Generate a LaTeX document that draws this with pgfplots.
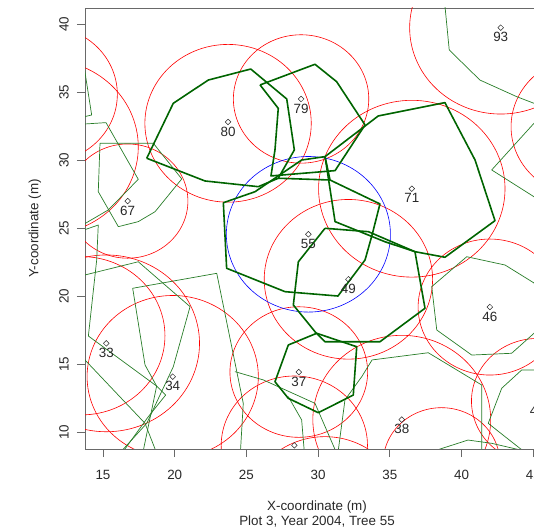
\documentclass[border=0pt]{standalone}
\usepackage{fontspec}
\setmainfont{Liberation Sans}
\usepackage{pgfplots}
\pgfplotsset{compat=1.18}
\definecolor{dkgreen}{RGB}{0,100,0}
\definecolor{thgreen}{RGB}{40,125,40}
\definecolor{axgray}{RGB}{105,105,105}
\definecolor{txt}{RGB}{40,40,40}
\pgfplotsset{
  circ/.style={domain=0:360, samples=121, variable=\t, no markers, line width=0.6bp},
  crownA/.style={dkgreen, line width=1.6bp, line join=round, no markers},
  crownB/.style={thgreen, line width=0.7bp, line join=round, no markers},
}
\begin{document}
\begin{tikzpicture}
\begin{axis}[
  at={(0,0)}, anchor=south west,
  scale only axis, width=464bp, height=441bp,
  xmin=13.745, xmax=46.096, ymin=8.772, ymax=41.198,
  xtick={15,20,...,45}, ytick={10,15,...,40},
  tick align=outside, tick pos=left,
  major tick length=8bp,
  axis line style={axgray, line width=0.8bp},
  every tick/.style={axgray, line width=0.8bp},
  tick label style={font=\fontsize{13.4bp}{16bp}\selectfont, text=txt},
  /pgf/number format/assume math mode=true,
  xticklabel style={anchor=north, inner sep=0pt, yshift=-13bp},
  yticklabel style={rotate=90, anchor=south, inner xsep=0pt, inner ysep=8bp},
  xlabel={X-coordinate (m)\\Plot 3, Year 2004, Tree 55},
  ylabel={Y-coordinate (m)},
  xlabel style={at={(axis description cs:0.5,0)}, anchor=center, yshift=-65bp, align=center, font=\fontsize{13.4bp}{15.3bp}\selectfont, text=txt},
  ylabel style={at={(axis description cs:-0.108,0.5)}, anchor=center, font=\fontsize{13.4bp}{16bp}\selectfont, text=txt},
  clip=true,
]
% competition circles
\addplot[circ, red] ({11.0+5.0*cos(\t)},{34.85+5.0*sin(\t)});
\addplot[circ, red] ({11.04+6.42*cos(\t)},{30.98+6.42*sin(\t)});
\addplot[circ, red] ({23.72+5.8*cos(\t)},{32.72+5.8*sin(\t)});
\addplot[circ, red] ({28.81+4.72*cos(\t)},{34.51+4.72*sin(\t)});
\addplot[circ, red] ({42.73+6.35*cos(\t)},{39.75+6.35*sin(\t)});
\addplot[circ, red] ({48.55+5.1*cos(\t)},{32.47+5.1*sin(\t)});
\addplot[circ, red] ({16.72+4.2*cos(\t)},{27.0+4.2*sin(\t)});
\addplot[circ, red] ({36.53+6.5*cos(\t)},{27.91+6.5*sin(\t)});
\addplot[circ, red] ({32.11+5.87*cos(\t)},{21.25+5.87*sin(\t)});
\addplot[circ, red] ({41.97+5.0*cos(\t)},{19.21+5.0*sin(\t)});
\addplot[circ, red] ({19.86+5.97*cos(\t)},{14.09+5.97*sin(\t)});
\addplot[circ, red] ({15.23+6.5*cos(\t)},{16.54+6.5*sin(\t)});
\addplot[circ, red] ({13.5+5.82*cos(\t)},{17.1+5.82*sin(\t)});
\addplot[circ, red] ({28.65+4.8*cos(\t)},{14.43+4.8*sin(\t)});
\addplot[circ, red] ({35.83+6.2*cos(\t)},{10.93+6.2*sin(\t)});
\addplot[circ, red] ({28.34+5.1*cos(\t)},{9.04+5.1*sin(\t)});
\addplot[circ, red] ({30.47+5.45*cos(\t)},{4.23+5.45*sin(\t)});
\addplot[circ, red] ({38.6+4.07*cos(\t)},{7.74+4.07*sin(\t)});
\addplot[circ, red] ({45.29+4.6*cos(\t)},{12.3+4.6*sin(\t)});
\addplot[circ, blue] ({29.32+5.72*cos(\t)},{24.56+5.72*sin(\t)});
% thin crowns
\addplot[crownB] coordinates {(13.70,36.77) (14.21,33.33) (13.60,33.18)};
\addplot[crownB] coordinates {(13.60,32.66) (15.21,32.77) (17.46,28.60) (15.37,26.35) (13.60,25.26)};
\addplot[crownB] coordinates {(14.79,31.25) (18.51,31.25) (20.49,28.63) (18.63,26.22) (17.46,25.49) (16.07,25.12) (14.67,27.69) (14.79,31.25)};
\addplot[crownB] coordinates {(13.60,24.85) (14.67,25.24) (14.56,22.67) (13.98,17.08) (18.74,13.40) (19.37,12.74) (18.16,11.15) (16.00,8.0)};
\addplot[crownB] coordinates {(13.60,21.53) (17.46,22.54) (21.07,19.24) (19.90,14.82) (18.05,10.66) (15.76,8.0)};
\addplot[crownB] coordinates {(13.60,15.48) (17.93,10.66) (18.63,8.77) (18.91,8.0)};
\addplot[crownB] coordinates {(17.68,8.0) (18.74,13.40) (17.93,14.95) (17.07,20.59) (22.93,21.69) (24.78,12.13) (24.55,8.0)};
\addplot[crownB] coordinates {(38.80,41.8) (39.14,38.11) (41.28,35.90) (43.84,34.68) (45.05,34.19) (46.2,33.7)};
\addplot[crownB] coordinates {(46.2,34.06) (42.10,29.29) (46.2,26.55)};
\addplot[crownB] coordinates {(45.05,20.98) (43.03,22.30) (40.36,22.91) (37.92,20.71) (38.27,17.52) (40.71,15.68) (43.49,15.81) (45.05,17.28) (45.9,19.1) (45.05,20.98)};
\addplot[crownB] coordinates {(31.32,8.0) (31.87,12.38) (33.04,14.09) (33.76,15.32) (37.68,15.85) (41.40,13.48) (41.40,8.0)};
\addplot[crownB] coordinates {(46.2,14.58) (44.19,14.58) (42.80,13.24) (41.86,10.66) (43.03,9.68) (45.06,8.0)};
\addplot[crownB] coordinates {(38.0,8.6) (40.45,9.43) (42.10,9.19) (44.5,8.6)};
\addplot[crownB] coordinates {(24.20,14.46) (26.18,13.85) (29.78,12.13) (31.48,8.0)};
\addplot[crownB] coordinates {(27.92,12.62) (28.85,10.91) (29.08,8.0)};
% thick crowns
\addplot[crownA] coordinates {(18.05,30.15) (19.90,34.19) (22.34,35.90) (25.30,36.71) (27.81,34.51) (28.34,30.76) (27.22,28.68) (25.83,28.06) (22.11,28.48) (18.05,30.15)};
\addplot[crownA] coordinates {(27.22,28.68) (30.83,28.55)};
\addplot[crownA] coordinates {(25.95,35.54) (29.78,37.06) (31.29,35.78) (33.27,32.60) (31.18,29.24) (26.71,28.85) (26.99,30.76) (27.22,33.82) (25.95,35.54)};
\addplot[crownA] coordinates {(23.39,26.88) (25.60,27.69) (28.85,30.02) (30.48,30.27) (30.83,28.55) (34.31,26.79) (33.76,24.51) (33.27,22.67) (31.38,20.02) (27.69,20.34) (23.62,22.06) (23.39,26.88)};
\addplot[crownA] coordinates {(30.48,30.27) (34.19,33.26) (38.84,34.24) (40.94,30.02) (42.33,25.56) (38.84,22.87) (36.75,23.28) (34.66,24.01) (31.18,25.49) (30.48,30.27)};
\addplot[crownA] coordinates {(30.48,25.00) (33.50,24.75) (36.75,23.28) (37.45,19.12) (34.31,16.66) (30.48,16.66) (29.78,17.40) (28.27,19.36) (28.62,22.54) (30.48,25.00)};
\addplot[crownA] coordinates {(29.90,17.28) (27.92,16.42) (26.99,13.72) (27.92,12.50) (30.01,11.44) (32.45,12.74) (32.69,16.29) (29.90,17.28)};
% trees
\addplot[only marks, mark=square, mark size=2bp, mark options={rotate=45, draw=txt, fill=none, line width=0.5bp},
  nodes near coords, point meta=explicit symbolic,
  every node near coord/.append style={anchor=north, inner sep=0pt, yshift=-4.6bp, font=\fontsize{13.4bp}{16bp}\selectfont, text=txt}]
  table[meta=lab] {
x y lab
42.73 39.75 93
23.72 32.82 80
28.81 34.51 79
16.72 27.00 67
36.53 27.91 71
29.32 24.56 55
32.11 21.25 49
41.97 19.21 46
15.23 16.54 33
19.86 14.09 34
28.65 14.43 37
35.83 10.93 38
45.29 12.30 47
};
\addplot[only marks, mark=square, mark size=2bp, mark options={rotate=45, draw=txt, fill=none, line width=0.5bp}] coordinates {(28.34,9.04)};
\end{axis}
\pgfresetboundingbox
\path[use as bounding box] (-85bp,-83bp) rectangle (449bp,449bp);
\end{tikzpicture}
\end{document}
